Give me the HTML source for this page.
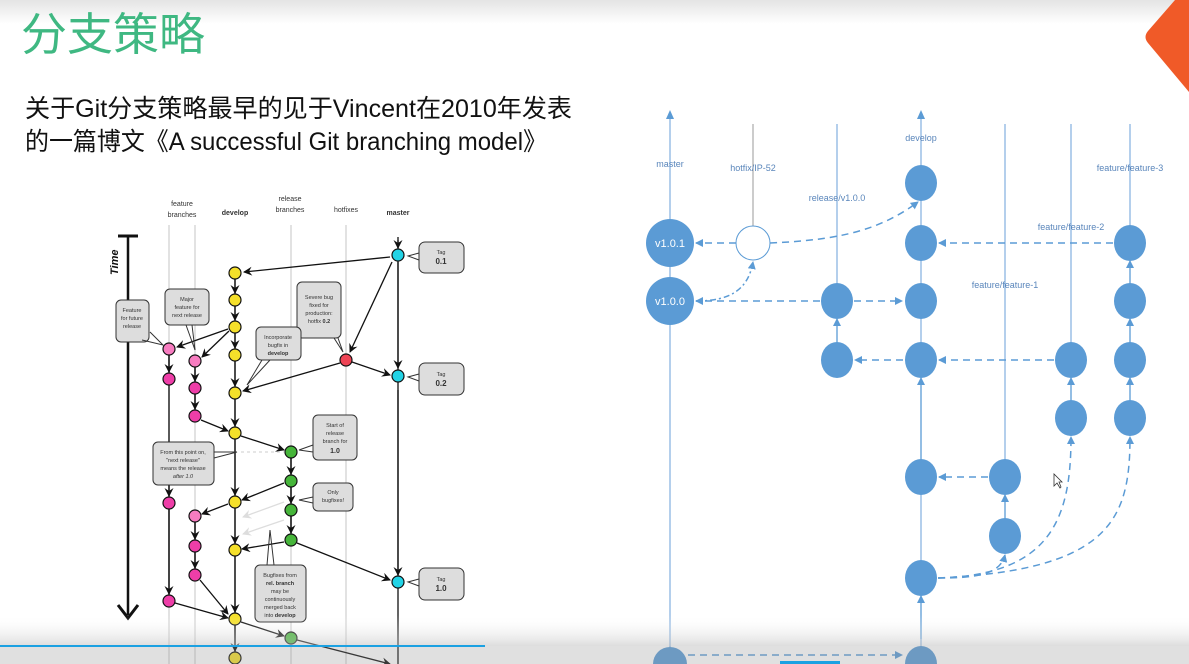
<!DOCTYPE html>
<html><head><meta charset="utf-8"><style>
html,body{margin:0;padding:0;background:#fff;}
body{width:1189px;height:664px;overflow:hidden;position:relative;font-family:"Liberation Sans","Noto Sans CJK SC",sans-serif;}
</style></head><body>
<svg width="1189" height="664" viewBox="0 0 1189 664" xmlns="http://www.w3.org/2000/svg" style="position:absolute;left:0;top:0">
<defs>
<linearGradient id="tg" x1="0" y1="0" x2="0" y2="1"><stop offset="0" stop-color="#e4e4e4"/><stop offset="1" stop-color="#fff"/></linearGradient>
<linearGradient id="bg" x1="0" y1="0" x2="0" y2="1"><stop offset="0" stop-color="#fff" stop-opacity="0"/><stop offset="1" stop-color="#bbb" stop-opacity="0.5"/></linearGradient>
<marker id="ba" markerWidth="8" markerHeight="8" refX="7" refY="4" orient="auto" markerUnits="userSpaceOnUse"><path d="M0,0 L8,4 L0,8 z" fill="#5b9bd5"/></marker>
<marker id="ka" markerWidth="9" markerHeight="9" refX="8" refY="4.5" orient="auto" markerUnits="userSpaceOnUse"><path d="M0,0 L9,4.5 L0,9 L3,4.5 z" fill="#111"/></marker>
<marker id="ga" markerWidth="9" markerHeight="9" refX="8" refY="4.5" orient="auto" markerUnits="userSpaceOnUse"><path d="M0,0 L9,4.5 L0,9 L3,4.5 z" fill="#ddd"/></marker>
</defs>
<rect x="0" y="0" width="1189" height="24" fill="url(#tg)"/>
<path d="M1175,0 L1189,0 L1189,92 L1148,43 Q1143,37 1148,31 Z" fill="#f05a28"/>
<text x="21" y="50" font-size="45" fill="#3fb882" font-family="'Noto Sans CJK SC',sans-serif" textLength="184" lengthAdjust="spacingAndGlyphs">分支策略</text>
<text x="25" y="117" font-size="25" fill="#111" font-family="'Liberation Sans','Noto Sans CJK SC',sans-serif" textLength="547" lengthAdjust="spacingAndGlyphs">关于Git分支策略最早的见于Vincent在2010年发表</text>
<text x="25" y="150" font-size="25" fill="#111" font-family="'Liberation Sans','Noto Sans CJK SC',sans-serif" textLength="522" lengthAdjust="spacingAndGlyphs">的一篇博文《A successful Git branching model》</text>

<!-- LEFT DIAGRAM -->
<g stroke="#e2e2e2" stroke-width="2">
<line x1="169" y1="225" x2="169" y2="664"/><line x1="195" y1="225" x2="195" y2="664"/>
<line x1="291" y1="225" x2="291" y2="664"/><line x1="346" y1="225" x2="346" y2="664"/>
</g>
<g font-size="7" fill="#333" text-anchor="middle">
<text x="182" y="206">feature</text><text x="182" y="217">branches</text>
<text x="235" y="215" font-weight="bold">develop</text>
<text x="290" y="201">release</text><text x="290" y="212">branches</text>
<text x="346" y="212">hotfixes</text>
<text x="398" y="215" font-weight="bold">master</text>
</g>
<text x="0" y="0" font-size="11" font-weight="bold" font-style="italic" fill="#111" transform="translate(118,275) rotate(-90)">Time</text>
<line x1="128" y1="236" x2="128" y2="615" stroke="#111" stroke-width="2.5"/>
<line x1="118" y1="236" x2="138" y2="236" stroke="#111" stroke-width="3"/>
<path d="M118,605 L128,618 L138,605" fill="none" stroke="#111" stroke-width="3"/>
<g stroke="#111" stroke-width="1.3" fill="none">
<line x1="235" y1="273" x2="235" y2="664"/><line x1="398" y1="240" x2="398" y2="664"/>
<line x1="169" y1="349" x2="169" y2="601"/><line x1="195" y1="361" x2="195" y2="416"/><line x1="195" y1="516" x2="195" y2="575"/>
<line x1="291" y1="452" x2="291" y2="540"/>
</g>
<g stroke="#111" stroke-width="1.3" marker-end="url(#ka)">
<line x1="398" y1="237" x2="398" y2="248"/>
<line x1="390" y1="257" x2="244" y2="272"/><line x1="392" y1="262" x2="350" y2="352"/>
<line x1="398" y1="262" x2="398" y2="368"/><line x1="352" y1="362" x2="390" y2="375"/>
<line x1="340" y1="363" x2="243" y2="391"/>
<line x1="235" y1="279" x2="235" y2="293"/><line x1="235" y1="306" x2="235" y2="320"/><line x1="235" y1="333" x2="235" y2="348"/><line x1="235" y1="361" x2="235" y2="386"/><line x1="235" y1="399" x2="235" y2="426"/>
<line x1="228" y1="329" x2="177" y2="347"/><line x1="229" y1="331" x2="202" y2="357"/>
<line x1="169" y1="355" x2="169" y2="372"/><line x1="195" y1="367" x2="195" y2="381"/><line x1="195" y1="394" x2="195" y2="409"/>
<line x1="201" y1="420" x2="228" y2="431"/><line x1="241" y1="436" x2="284" y2="450"/>
<line x1="291" y1="458" x2="291" y2="474"/><line x1="291" y1="487" x2="291" y2="503"/><line x1="291" y1="516" x2="291" y2="533"/>
<line x1="284" y1="483" x2="242" y2="500"/><line x1="228" y1="504" x2="202" y2="514"/>
<line x1="235" y1="439" x2="235" y2="495"/><line x1="235" y1="508" x2="235" y2="543"/>
<line x1="284" y1="542" x2="242" y2="549"/><line x1="297" y1="543" x2="390" y2="580"/>
<line x1="398" y1="390" x2="398" y2="575"/>
<line x1="195" y1="522" x2="195" y2="539"/><line x1="195" y1="552" x2="195" y2="568"/>
<line x1="169" y1="485" x2="169" y2="496"/><line x1="169" y1="509" x2="169" y2="594"/>
<line x1="200" y1="580" x2="228" y2="614"/><line x1="175" y1="603" x2="228" y2="618"/>
<line x1="235" y1="556" x2="235" y2="612"/><line x1="241" y1="622" x2="284" y2="636"/>
<line x1="235" y1="625" x2="235" y2="651"/><line x1="297" y1="640" x2="390" y2="664"/>
</g>
<g stroke="#ddd" stroke-width="1.3" marker-end="url(#ga)">
<line x1="284" y1="502" x2="243" y2="517"/><line x1="284" y1="520" x2="243" y2="534"/>
</g>
<line x1="241" y1="452" x2="284" y2="452" stroke="#ccc" stroke-dasharray="3,3"/>
<g stroke="#111" stroke-width="1.2">
<g fill="#22d3e6"><circle cx="398" cy="255" r="6"/><circle cx="398" cy="376" r="6"/><circle cx="398" cy="582" r="6"/></g>
<g fill="#f5e02a"><circle cx="235" cy="273" r="6"/><circle cx="235" cy="300" r="6"/><circle cx="235" cy="327" r="6"/><circle cx="235" cy="355" r="6"/><circle cx="235" cy="393" r="6"/><circle cx="235" cy="433" r="6"/><circle cx="235" cy="502" r="6"/><circle cx="235" cy="550" r="6"/><circle cx="235" cy="619" r="6"/><circle cx="235" cy="658" r="6"/></g>
<g fill="#ee3ea8"><circle cx="169" cy="349" r="6" fill="#f77cc0"/><circle cx="169" cy="379" r="6"/><circle cx="169" cy="503" r="6"/><circle cx="169" cy="601" r="6"/><circle cx="195" cy="361" r="6" fill="#f77cc0"/><circle cx="195" cy="388" r="6"/><circle cx="195" cy="416" r="6"/><circle cx="195" cy="516" r="6" fill="#f77cc0"/><circle cx="195" cy="546" r="6"/><circle cx="195" cy="575" r="6"/></g>
<circle cx="346" cy="360" r="6" fill="#ee4455"/>
<g fill="#46b53a"><circle cx="291" cy="452" r="6"/><circle cx="291" cy="481" r="6"/><circle cx="291" cy="510" r="6"/><circle cx="291" cy="540" r="6"/><circle cx="291" cy="638" r="6"/></g>
</g>
<g fill="#ddd" stroke="#333" stroke-width="1">
<rect x="419" y="242" width="45" height="31" rx="6"/><rect x="116" y="300" width="33" height="42" rx="5"/>
<rect x="165" y="289" width="44" height="36" rx="5"/><rect x="297" y="282" width="44" height="56" rx="5"/>
<rect x="256" y="327" width="45" height="33" rx="5"/><rect x="419" y="363" width="45" height="32" rx="6"/>
<rect x="313" y="415" width="44" height="45" rx="5"/><rect x="153" y="442" width="61" height="43" rx="5"/>
<rect x="313" y="483" width="40" height="28" rx="5"/><rect x="255" y="565" width="51" height="57" rx="5"/>
<rect x="419" y="568" width="45" height="32" rx="6"/>
</g>
<g stroke="#333" stroke-width="1" fill="none">
<path d="M419,253 L408,256 L419,260"/><path d="M419,374 L408,377 L419,381"/><path d="M419,579 L408,582 L419,586"/>
<path d="M150,332 L163,345 L142,340"/><path d="M186,325 L195,350 L192,325"/><path d="M334,338 L343,352 L338,338"/>
<path d="M262,360 L247,385 L270,360"/><path d="M313,445 L299,450 L313,452"/><path d="M214,452 L237,452 L214,458"/>
<path d="M313,497 L299,500 L313,503"/><path d="M267,565 L270,530 L274,565"/>
</g>
<g font-size="5.5" fill="#333" text-anchor="middle">
<text x="441" y="254">Tag</text><text x="441" y="264" font-size="8" font-weight="bold">0.1</text>
<text x="132" y="312">Feature</text><text x="132" y="320">for future</text><text x="132" y="328">release</text>
<text x="187" y="301">Major</text><text x="187" y="309">feature for</text><text x="187" y="317">next release</text>
<text x="319" y="299">Severe bug</text><text x="319" y="307">fixed for</text><text x="319" y="315">production:</text><text x="319" y="323">hotfix <tspan font-weight="bold">0.2</tspan></text>
<text x="278" y="339">Incorporate</text><text x="278" y="347">bugfix in</text><text x="278" y="355" font-weight="bold">develop</text>
<text x="441" y="376">Tag</text><text x="441" y="386" font-size="8" font-weight="bold">0.2</text>
<text x="335" y="427">Start of</text><text x="335" y="435">release</text><text x="335" y="443">branch for</text><text x="335" y="453" font-size="7" font-weight="bold">1.0</text>
<text x="183" y="454">From this point on,</text><text x="183" y="462">"next release"</text><text x="183" y="470">means the release</text><text x="183" y="478" font-style="italic">after 1.0</text>
<text x="333" y="494">Only</text><text x="333" y="502">bugfixes!</text>
<text x="280" y="577">Bugfixes from</text><text x="280" y="585" font-weight="bold">rel. branch</text><text x="280" y="593">may be</text><text x="280" y="601">continuously</text><text x="280" y="609">merged back</text><text x="280" y="617">into <tspan font-weight="bold">develop</tspan></text>
<text x="441" y="581">Tag</text><text x="441" y="591" font-size="8" font-weight="bold">1.0</text>
</g>

<!-- RIGHT DIAGRAM -->
<g stroke="#6a9fd8" stroke-width="1">
<line x1="670" y1="118" x2="670" y2="664"/><line x1="921" y1="118" x2="921" y2="664"/>
<line x1="837" y1="124" x2="837" y2="344"/><line x1="1005" y1="124" x2="1005" y2="461"/>
<line x1="1071" y1="124" x2="1071" y2="344"/><line x1="1130" y1="124" x2="1130" y2="227"/>
<line x1="753" y1="124" x2="753" y2="226" stroke="#999"/>
</g>
<g fill="#5b9bd5"><path d="M670,110 L666,119 L674,119 Z"/><path d="M921,110 L917,119 L925,119 Z"/></g>
<g font-size="9" fill="#5a86bb" text-anchor="middle">
<text x="670" y="167">master</text><text x="753" y="171">hotfix/IP-52</text><text x="921" y="141">develop</text>
<text x="837" y="201">release/v1.0.0</text><text x="1130" y="171">feature/feature-3</text>
<text x="1071" y="230">feature/feature-2</text><text x="1005" y="288">feature/feature-1</text>
</g>
<g stroke="#5b9bd5" stroke-width="1.5" fill="none" stroke-dasharray="7,5" marker-end="url(#ba)">
<line x1="736" y1="243" x2="696" y2="243"/>
<path d="M770,243 C840,240 880,230 918,202"/>
<path d="M696,301 C730,301 748,290 753,262" stroke-dasharray="6,3,2,3"/>
<line x1="820" y1="301" x2="696" y2="301"/>
<line x1="854" y1="301" x2="902" y2="301"/>
<line x1="1113" y1="243" x2="939" y2="243"/>
<line x1="903" y1="360" x2="855" y2="360"/>
<line x1="1054" y1="360" x2="939" y2="360"/>
<line x1="988" y1="477" x2="939" y2="477"/>
<path d="M938,578 C975,578 1000,575 1005,555"/>
<path d="M938,578 C1050,575 1071,520 1071,437"/>
<path d="M938,578 C1110,570 1130,520 1130,437"/>
<line x1="688" y1="655" x2="902" y2="655"/>
</g>
<g stroke="#5b9bd5" stroke-width="1.3" marker-end="url(#ba)">
<line x1="837" y1="344" x2="837" y2="319"/><line x1="1130" y1="285" x2="1130" y2="261"/>
<line x1="1130" y1="344" x2="1130" y2="319"/><line x1="1130" y1="402" x2="1130" y2="378"/>
<line x1="1071" y1="402" x2="1071" y2="378"/><line x1="1005" y1="520" x2="1005" y2="495"/>
<line x1="921" y1="639" x2="921" y2="596"/><line x1="921" y1="460" x2="921" y2="378"/>
</g>
<g fill="#5b9bd5">
<circle cx="670" cy="243" r="24"/><circle cx="670" cy="301" r="24"/><circle cx="670" cy="664" r="17"/>
<ellipse cx="921" cy="183" rx="16" ry="18"/><ellipse cx="921" cy="243" rx="16" ry="18"/><ellipse cx="921" cy="301" rx="16" ry="18"/><ellipse cx="921" cy="360" rx="16" ry="18"/><ellipse cx="921" cy="477" rx="16" ry="18"/><ellipse cx="921" cy="578" rx="16" ry="18"/><ellipse cx="921" cy="664" rx="16" ry="18"/>
<ellipse cx="837" cy="301" rx="16" ry="18"/><ellipse cx="837" cy="360" rx="16" ry="18"/>
<ellipse cx="1005" cy="477" rx="16" ry="18"/><ellipse cx="1005" cy="536" rx="16" ry="18"/>
<ellipse cx="1071" cy="360" rx="16" ry="18"/><ellipse cx="1071" cy="418" rx="16" ry="18"/>
<ellipse cx="1130" cy="243" rx="16" ry="18"/><ellipse cx="1130" cy="301" rx="16" ry="18"/><ellipse cx="1130" cy="360" rx="16" ry="18"/><ellipse cx="1130" cy="418" rx="16" ry="18"/>
</g>
<circle cx="753" cy="243" r="17" fill="#fff" stroke="#5b9bd5" stroke-width="1"/>
<g font-size="11" fill="#fff" text-anchor="middle"><text x="670" y="247">v1.0.1</text><text x="670" y="305">v1.0.0</text></g>
<path d="M1054,474 L1054,486 L1057,483 L1060,488 L1061,487 L1059,482 L1062,482 Z" fill="#fff" stroke="#333" stroke-width="0.8"/>

<!-- bottom bar -->
<rect x="0" y="615" width="1189" height="31" fill="url(#bg)"/>
<rect x="0" y="646" width="1189" height="18" fill="#999" opacity="0.3"/>
<rect x="0" y="645" width="485" height="2" fill="#1ba1e2"/>
<rect x="780" y="661" width="60" height="3" fill="#1ba1e2"/>
</svg>
</body></html>
